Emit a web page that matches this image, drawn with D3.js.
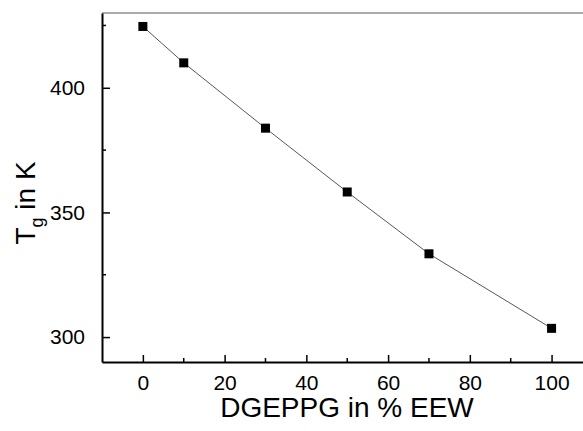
<!DOCTYPE html>
<html>
<head>
<meta charset="utf-8">
<script src="https://cdn.jsdelivr.net/npm/d3@7"></script>
<style>
  body { margin: 0; background: #fff; }
  text { font-family: "Liberation Sans", Arial, sans-serif; fill: #000; }
</style>
</head>
<body>
<div id="chart"></div>
<script>
// data
var dgeppg = [0, 10, 30, 50, 70, 100]
var tg = [424.6, 410, 383.8, 358.2, 333.4, 303.5]
var xTicks = [0, 20, 40, 60, 80, 100]
var xMinor = [10, 30, 50, 70, 90]
var yTicks = [300, 350, 400]
var yMinor = [325, 375, 425]

var width = 583,
    height = 431

var svg = d3.select("#chart")
  .append("svg")
    .attr("width", width)
    .attr("height", height)

// plot box (right side runs off the picture)
var plotLeft = 102, plotTop = 13, plotBottom = 362
var x = d3.scaleLinear().domain([-10, 110]).range([plotLeft, plotLeft + 120 * 4.087])
var y = d3.scaleLinear().domain([290, 430]).range([plotBottom, plotTop])

// top frame line, grey
svg.append("line")
  .attr("x1", plotLeft).attr("x2", x(110))
  .attr("y1", plotTop).attr("y2", plotTop)
  .attr("stroke", "#aaa")
  .attr("stroke-width", 2)

// x axis, ticks pointing inwards
var xAxis = svg.append("g")
  .attr("transform", "translate(0," + plotBottom + ")")
  .call(d3.axisBottom(x).tickValues(xTicks).tickSizeInner(-7).tickSizeOuter(0).tickPadding(13))
xAxis.selectAll(".minor").data(xMinor).enter().append("line")
  .attr("class", "minor")
  .attr("x1", function(d) { return x(d); }).attr("x2", function(d) { return x(d); })
  .attr("y1", 0).attr("y2", -4)
  .attr("stroke", "#000").attr("stroke-width", 1.5)

// y axis
var yAxis = svg.append("g")
  .attr("transform", "translate(" + plotLeft + ",0)")
  .call(d3.axisLeft(y).tickValues(yTicks).tickSizeInner(-8).tickSizeOuter(0).tickPadding(17))
yAxis.selectAll(".minor").data(yMinor).enter().append("line")
  .attr("class", "minor")
  .attr("y1", function(d) { return y(d); }).attr("y2", function(d) { return y(d); })
  .attr("x1", 0).attr("x2", 4)
  .attr("stroke", "#000").attr("stroke-width", 1.5)

svg.selectAll(".domain").attr("stroke", "#000").attr("stroke-width", 2)
svg.selectAll(".tick line").attr("stroke", "#000").attr("stroke-width", 1.5)
svg.selectAll(".tick text")
  .attr("font-family", null)
  .attr("font-size", null)
  .style("font-family", "'Liberation Sans', Arial, sans-serif")
  .style("font-size", "21px")
  .attr("fill", "#000")

// connecting line
var points = dgeppg.map(function(d, i) { return [d, tg[i]]; })
svg.append("path")
  .datum(points)
  .attr("fill", "none")
  .attr("stroke", "#444")
  .attr("stroke-width", 0.9)
  .attr("d", d3.line()
    .x(function(d) { return x(d[0]); })
    .y(function(d) { return y(d[1]); })
  )

// square markers
var s = 9
svg.selectAll("rect.pt")
  .data(points)
  .enter()
  .append("rect")
    .attr("class", "pt")
    .attr("x", function(d) { return x(d[0]) - s / 2; })
    .attr("y", function(d) { return y(d[1]) - s / 2; })
    .attr("width", s)
    .attr("height", s)
    .attr("fill", "#000")

// axis titles
svg.append("text")
  .attr("x", 347)
  .attr("y", 417)
  .attr("text-anchor", "middle")
  .style("font-size", "28px")
  .text("DGEPPG in % EEW")

var yt = svg.append("text")
  .attr("transform", "translate(35,203) rotate(-90)")
  .attr("text-anchor", "middle")
  .style("font-size", "28px")
yt.append("tspan").text("T")
yt.append("tspan").attr("dy", 8).style("font-size", "18px").text("g")
yt.append("tspan").attr("dy", -8).text(" in K")
</script>
</body>
</html>
